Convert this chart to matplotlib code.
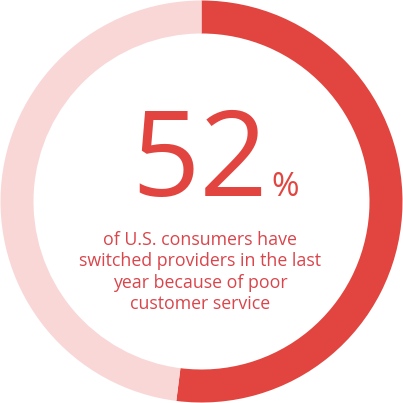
import matplotlib
matplotlib.use("Agg")
import matplotlib.pyplot as plt

# data
shares = [52, 48]
colors = ["#e2443f", "#f9d7d7"]
big_value = "52"
big_unit = "%"
caption_lines = ["of U.S. consumers have",
                 "switched providers in the last",
                 "year because of poor",
                 "customer service"]

plt.rcParams['font.family'] = ['Open Sans', 'DejaVu Sans']

H = 403
fig = plt.figure(figsize=(4.03, 4.03), dpi=100)
ax = fig.add_axes([0, 0, 1, 1])
ax.pie(shares, colors=colors, startangle=90, counterclock=False,
       center=(201.5, 201.5), radius=201,
       wedgeprops=dict(width=33, linewidth=0))
ax.set_xlim(0, H)
ax.set_ylim(0, H)
ax.set_aspect('equal')
ax.axis('off')

# y values below given from the top of the picture
ax.text(200, H - 165, big_value, ha='center', va='center', fontsize=86,
        color="#e2443f")
ax.text(271, H - 188, big_unit, ha='left', va='center', fontsize=24,
        color="#e2443f")

for i, line in enumerate(caption_lines):
    ax.text(200, H - (240 + i * 21.3), line, ha='center', va='center',
            fontsize=12.8, color="#d9454b")

fig.savefig("out.png", dpi=100)
